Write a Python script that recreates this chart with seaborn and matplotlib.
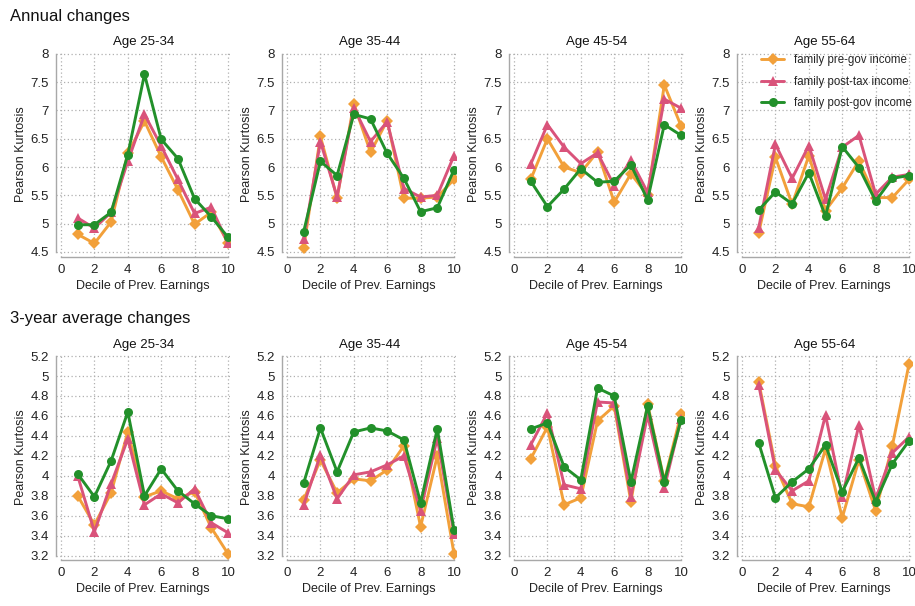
import numpy as np
import pandas as pd
import matplotlib
matplotlib.use("Agg")
import matplotlib.pyplot as plt
from matplotlib.ticker import FuncFormatter
import seaborn as sns

deciles = list(range(1, 11))
age_groups = ["Age 25-34", "Age 35-44", "Age 45-54", "Age 55-64"]
series_names = ["family pre-gov income", "family post-tax income", "family post-gov income"]

# Annual changes: Pearson kurtosis by decile of previous earnings
annual_pre_gov = [
    [4.81, 4.65, 5.03, 6.24, 6.81, 6.18, 5.60, 4.99, 5.20, 4.66],
    [4.57, 6.54, 5.45, 7.12, 6.26, 6.82, 5.45, 5.45, 5.47, 5.78],
    [5.78, 6.50, 6.00, 5.90, 6.27, 5.38, 5.88, 5.50, 7.45, 6.73],
    [4.84, 6.17, 5.34, 6.20, 5.23, 5.63, 6.11, 5.46, 5.46, 5.78],
]
annual_post_tax = [
    [5.10, 4.92, 5.20, 6.10, 6.93, 6.37, 5.78, 5.18, 5.29, 4.65],
    [4.72, 6.45, 5.47, 7.05, 6.45, 6.80, 5.62, 5.47, 5.50, 6.20],
    [6.05, 6.75, 6.35, 6.06, 6.25, 5.67, 6.12, 5.55, 7.20, 7.04],
    [4.93, 6.40, 5.80, 6.38, 5.43, 6.35, 6.56, 5.52, 5.82, 5.87],
]
annual_post_gov = [
    [4.98, 4.98, 5.20, 6.22, 7.64, 6.49, 6.15, 5.44, 5.12, 4.76],
    [4.86, 6.10, 5.85, 6.93, 6.85, 6.24, 5.80, 5.21, 5.28, 5.95],
    [5.75, 5.30, 5.61, 5.97, 5.73, 5.75, 6.04, 5.42, 6.75, 6.56],
    [5.24, 5.56, 5.35, 5.90, 5.13, 6.36, 5.99, 5.40, 5.80, 5.85],
]

# 3-year average changes
avg3_pre_gov = [
    [3.80, 3.51, 3.83, 4.44, 3.79, 3.85, 3.77, 3.84, 3.48, 3.22],
    [3.76, 4.16, 3.83, 3.97, 3.95, 4.06, 4.30, 3.49, 4.20, 3.22],
    [4.17, 4.49, 3.71, 3.78, 4.55, 4.70, 3.74, 4.72, 3.95, 4.62],
    [4.94, 4.10, 3.72, 3.69, 4.27, 3.58, 4.16, 3.65, 4.30, 5.12],
]
avg3_post_tax = [
    [4.00, 3.44, 3.92, 4.37, 3.71, 3.82, 3.73, 3.87, 3.53, 3.43],
    [3.71, 4.21, 3.77, 4.01, 4.04, 4.11, 4.20, 3.65, 4.38, 3.42],
    [4.31, 4.63, 3.91, 3.87, 4.74, 4.73, 3.79, 4.61, 3.88, 4.57],
    [4.91, 4.06, 3.85, 3.95, 4.61, 3.79, 4.51, 3.77, 4.23, 4.39],
]
avg3_post_gov = [
    [4.02, 3.79, 4.15, 4.64, 3.80, 4.07, 3.85, 3.72, 3.60, 3.57],
    [3.93, 4.48, 4.04, 4.44, 4.48, 4.45, 4.36, 3.73, 4.47, 3.46],
    [4.47, 4.53, 4.09, 3.96, 4.88, 4.80, 3.94, 4.70, 3.94, 4.56],
    [4.33, 3.78, 3.94, 4.07, 4.31, 3.84, 4.18, 3.74, 4.12, 4.35],
]

x_ticks = [0, 2, 4, 6, 8, 10]
annual_yticks = [4.5, 5, 5.5, 6, 6.5, 7, 7.5, 8]
avg3_yticks = [3.2, 3.4, 3.6, 3.8, 4.0, 4.2, 4.4, 4.6, 4.8, 5.0, 5.2]

palette = {
    "family pre-gov income": "#F2A03A",
    "family post-tax income": "#D9537A",
    "family post-gov income": "#22902A",
}
marker_map = {
    "family pre-gov income": "D",
    "family post-tax income": "^",
    "family post-gov income": "o",
}

sns.set_style("white")
plt.rcParams["font.family"] = ["Liberation Sans", "DejaVu Sans"]


def build_frame(pre, post_tax, post_gov, i):
    rows = []
    for name, vals in zip(series_names, (pre[i], post_tax[i], post_gov[i])):
        for d, v in zip(deciles, vals):
            rows.append({"decile": d, "kurtosis": v, "series": name})
    return pd.DataFrame(rows)


fig = plt.figure(figsize=(9.15, 6.06), dpi=100)

lefts = [0.0612, 0.3082, 0.5563, 0.8055]
width = 0.1907
rows_spec = [
    (annual_pre_gov, annual_post_tax, annual_post_gov, 0.5759, (4.41, 8.04), annual_yticks),
    (avg3_pre_gov, avg3_post_tax, avg3_post_gov, 0.0759, (3.157, 5.215), avg3_yticks),
]
height = 0.339

grid_kw = dict(color="#B0B0B0", linestyle=(0, (1, 2)), linewidth=0.9)
fmt = FuncFormatter(lambda v, pos: f"{v:g}")

for r, (pre, ptax, pgov, bottom, ylim, yticks) in enumerate(rows_spec):
    for i, label in enumerate(age_groups):
        ax = fig.add_axes([lefts[i], bottom, width, height])
        df = build_frame(pre, ptax, pgov, i)
        show_legend = (r == 0 and i == 3)
        sns.lineplot(
            data=df, x="decile", y="kurtosis", hue="series", style="series",
            hue_order=series_names, style_order=series_names,
            palette=palette, markers=marker_map, dashes=False,
            linewidth=2.1, markersize=6.5, markeredgewidth=0,
            legend=show_legend, ax=ax,
        )
        ax.set_xlim(-0.3, 10.15)
        ax.set_ylim(*ylim)
        ax.set_xticks(x_ticks)
        ax.set_yticks(yticks)
        ax.yaxis.set_major_formatter(fmt)
        ax.grid(True, **grid_kw)
        ax.set_axisbelow(True)
        for side in ("top", "right"):
            ax.spines[side].set_visible(False)
        for side in ("left", "bottom"):
            ax.spines[side].set_color("#A8A8A8")
            ax.spines[side].set_linewidth(1.0)
        ax.spines["bottom"].set_bounds(0, 10)
        ax.spines["left"].set_bounds(yticks[0], yticks[-1])
        ax.tick_params(axis="both", which="major", length=3, width=0.8,
                       color="#A8A8A8", labelsize=9.5, labelcolor="#222222", pad=2)
        ax.set_title(label, fontsize=9.5, color="#111111", pad=5)
        ax.set_xlabel("Decile of Prev. Earnings", fontsize=9, color="#222222", labelpad=3)
        ax.set_ylabel("Pearson Kurtosis", fontsize=9, color="#222222", labelpad=3)
        if show_legend:
            sns.move_legend(ax, "upper right", bbox_to_anchor=(1.04, 1.02),
                            frameon=False, title=None, fontsize=8.3,
                            handlelength=2.0, handletextpad=0.8,
                            labelspacing=0.8, borderaxespad=0.2)

fig.text(0.011, 1 - 16 / 606, "Annual changes", fontsize=12, va="center", ha="left", color="#111111")
fig.text(0.011, 1 - 319 / 606, "3-year average changes", fontsize=12, va="center", ha="left", color="#111111")

fig.savefig("out.png", dpi=100)
